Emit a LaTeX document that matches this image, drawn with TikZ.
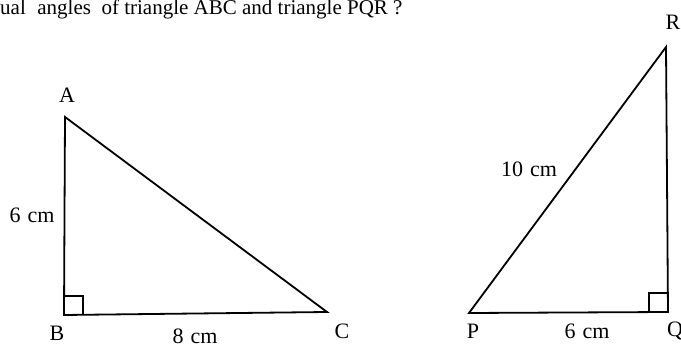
\documentclass[tikz,border=0pt]{standalone}
\usepackage{fontspec}
\setmainfont{Liberation Serif}
\usetikzlibrary{calc}
\begin{document}
\begin{tikzpicture}[x=1pt,y=-1pt,
  edge/.style={line width=1.8pt,line join=miter},
  rtmark/.style={line width=1.4pt},
  lbl/.style={font=\fontsize{22}{26}\selectfont,inner sep=0pt},
  ttl/.style={font=\fontsize{21}{25}\selectfont,inner sep=0pt}]
\useasboundingbox (0,0) rectangle (681,347);
% title
\node[ttl,anchor=base west] (title) at (0,15) {ual\hspace{0.55em}angles\hspace{0.5em}of triangle ABC and triangle PQR ?};
% triangle ABC
\coordinate (A) at (65,117);
\coordinate (B) at (64,315);
\coordinate (C) at (327,312);
\draw[edge] (A) -- (B) -- (C) -- cycle;
\draw[rtmark] ($(B)+(0,-19)$) -- ++(19,0) -- ++(0,19);
\node[lbl] (lA) at (67,95) {A};
\node[lbl] (lB) at (57,333) {B};
\node[lbl] (lC) at (342,331) {C};
\node[lbl] (l6a) at (32,215) {6\hspace{0.32em}cm};
\node[lbl] (l8) at (195,336) {8\hspace{0.32em}cm};
% triangle PQR
\coordinate (P) at (469,313);
\coordinate (Q) at (668,312);
\coordinate (R) at (666,47);
\draw[edge] (P) -- (Q) -- (R) -- cycle;
\draw[rtmark] ($(Q)+(-19,0)$) -- ++(0,-19) -- ++(19,0);
\node[lbl] (lR) at (673,22) {R};
\node[lbl] (lP) at (473,331) {P};
\node[lbl,anchor=west] (lQ) at (667,331) {Q};
\node[lbl] (l10) at (529,169) {10\hspace{0.32em}cm};
\node[lbl] (l6b) at (587,331) {6\hspace{0.32em}cm};
\end{tikzpicture}
\end{document}
